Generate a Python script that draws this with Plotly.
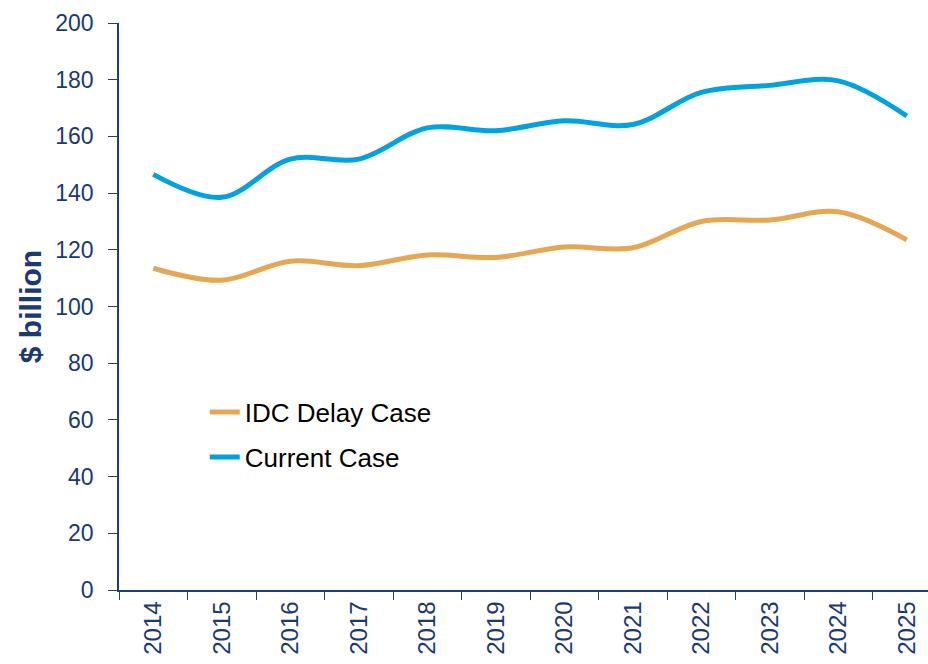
import plotly.graph_objects as go

years = ["2014", "2015", "2016", "2017", "2018", "2019", "2020", "2021", "2022", "2023", "2024", "2025"]
idc_delay = [113.5, 109.3, 116.0, 114.4, 118.2, 117.3, 121.0, 120.7, 130.0, 130.5, 133.4, 123.5]
current_case = [146.6, 138.5, 152.0, 152.0, 163.0, 162.0, 165.5, 164.2, 175.5, 178.0, 179.6, 167.2]

AXIS = "#1F3D7A"
TXT = "#1A3A73"

fig = go.Figure()
fig.add_trace(go.Scatter(x=years, y=idc_delay, name="IDC Delay Case", mode="lines",
                         line=dict(color="#E5A754", width=5, shape="spline", smoothing=1.0),
                         legendgroup="a"))
fig.add_trace(go.Scatter(x=years, y=current_case, name="Current Case", mode="lines",
                         line=dict(color="#00A3E0", width=5, shape="spline", smoothing=1.0),
                         legendgroup="b"))

fig.update_layout(
    width=928, height=664,
    margin=dict(l=119, r=0, t=23, b=74, autoexpand=False),
    paper_bgcolor="white", plot_bgcolor="white",
    font=dict(family="Liberation Sans, Arial, sans-serif", color=TXT),
    showlegend=True,
    legend=dict(x=0.106, y=0.355, xanchor="left", yanchor="top",
                font=dict(size=26, color="black"), bgcolor="rgba(0,0,0,0)",
                traceorder="grouped", tracegroupgap=8, itemwidth=30),
    xaxis=dict(type="category", range=[-0.5, 11.31], tickson="boundaries",
               showline=True, linecolor=AXIS, linewidth=1.5, ticks="outside",
               ticklen=8, tickcolor=AXIS, tickangle=-90, showgrid=False,
               tickfont=dict(size=24, color=TXT), zeroline=False, automargin=False),
    yaxis=dict(range=[0, 200], dtick=20, showline=True, linecolor=AXIS, linewidth=1.5,
               ticks="outside", ticklen=9, tickcolor=AXIS, showgrid=False, zeroline=False,
               tickfont=dict(size=23, color=TXT), automargin=False, ticklabelstandoff=10,
               title=dict(text="<b>$ billion</b>", font=dict(size=30, color=TXT), standoff=5)),
)

fig.write_html("out.html", config={"displayModeBar": False},
               post_script="document.body.style.margin='0';")
